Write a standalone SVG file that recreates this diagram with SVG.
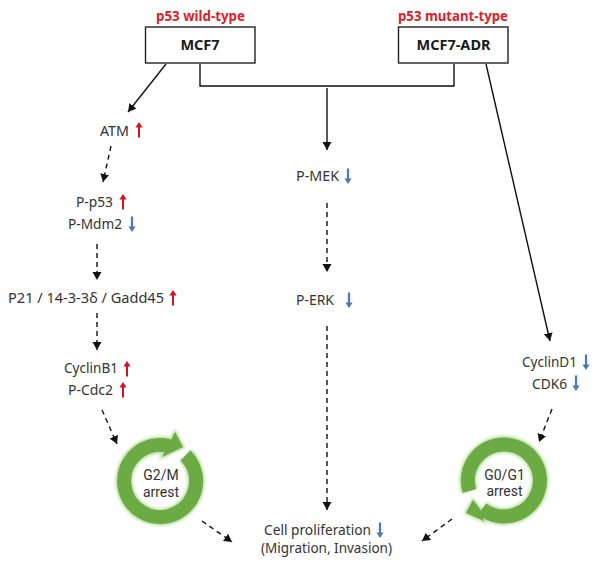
<svg xmlns="http://www.w3.org/2000/svg" width="600" height="567" viewBox="0 0 600 567">
  <style>
    .t { font-family: "Noto Sans", "Open Sans", sans-serif; font-size: 14px; fill: #333; text-anchor: middle; }
    .c { font-family: Roboto, "Liberation Sans", sans-serif; font-size: 14px; fill: #333; text-anchor: middle; }
    .tag { font-family: "Noto Sans", "Liberation Sans", sans-serif; font-size: 13.3px; font-weight: 700; fill: #e0202a; text-anchor: middle; }
    .name { font-family: "Noto Sans", "Liberation Sans", sans-serif; font-size: 14.5px; font-weight: 700; fill: #1a1a1a; text-anchor: middle; }
    .box { fill: #fff; stroke: #222; stroke-width: 1.4; }
    .solid { fill: none; stroke: #111; stroke-width: 1.4; }
    .dash { fill: none; stroke: #111; stroke-width: 1.4; stroke-dasharray: 5 4; }
    .ring { fill: none; stroke: #6cab44; stroke-width: 14; }
    .head { fill: #6cab44; }
    .glow { fill: none; stroke: #b5dc9c; stroke-width: 17; filter: url(#soft); }
    .headglow { fill: #b5dc9c; stroke: #b5dc9c; stroke-width: 3; filter: url(#soft); }
  </style>
  <defs>
    <marker id="tip" markerUnits="userSpaceOnUse" markerWidth="9" markerHeight="10" refX="8" refY="4.5" orient="auto">
      <path d="M0 0L8 4.5L0 9z" fill="#111"/>
    </marker>
    <filter id="soft" x="-20%" y="-20%" width="140%" height="140%"><feGaussianBlur stdDeviation="1.5"/></filter>
    <g id="up"><path d="M0 -8L3.6 -2.5L1 -2.5L1 7.5L-1 7.5L-1 -2.5L-3.6 -2.5z" fill="#d8121c"/></g>
    <g id="down"><path d="M0 8L3.6 2.5L1.1 2.5L1.1 -7.5L-1.1 -7.5L-1.1 2.5L-3.6 2.5z" fill="#4a78b8"/></g>
  </defs>
  <rect width="600" height="567" fill="#fff"/>

  <g id="connectors">
    <path class="solid" d="M166 64L128 112" marker-end="url(#tip)"/>
    <path class="solid" d="M200 64V86H454V64"/>
    <path class="solid" d="M327 88V150" marker-end="url(#tip)"/>
    <path class="solid" d="M486 64L550 341" marker-end="url(#tip)"/>
    <path class="dash" d="M111 146L103 182" marker-end="url(#tip)"/>
    <path class="dash" d="M97 244V280" marker-end="url(#tip)"/>
    <path class="dash" d="M97 313V350" marker-end="url(#tip)"/>
    <path class="dash" d="M102 410L117 444" marker-end="url(#tip)"/>
    <path class="dash" d="M327 203V272" marker-end="url(#tip)"/>
    <path class="dash" d="M327 326V510" marker-end="url(#tip)"/>
    <path class="dash" d="M552 409L539 442" marker-end="url(#tip)"/>
    <path class="dash" d="M202 521L232 542" marker-end="url(#tip)"/>
    <path class="dash" d="M452 519L422 541" marker-end="url(#tip)"/>
  </g>

  <g id="mcf7">
    <text class="tag" x="200.500" y="21" textLength="89" lengthAdjust="spacingAndGlyphs">p53 wild-type</text>
    <rect class="box" x="145.500" y="27" width="109.500" height="36"/>
    <text class="name" x="200" y="50">MCF7</text>
  </g>
  <g id="mcf7-adr">
    <text class="tag" x="453" y="21" textLength="110" lengthAdjust="spacingAndGlyphs">p53 mutant-type</text>
    <rect class="box" x="398.500" y="27" width="109.500" height="36"/>
    <text class="name" x="453.500" y="50" textLength="74" lengthAdjust="spacingAndGlyphs">MCF7-ADR</text>
  </g>

  <g id="atm">
    <text class="t" x="114.500" y="136" textLength="29" lengthAdjust="spacingAndGlyphs">ATM</text>
    <use href="#up" x="139" y="130"/>
  </g>
  <g id="p-p53-mdm2">
    <text class="t" x="94.500" y="207" textLength="37" lengthAdjust="spacingAndGlyphs">P-p53</text>
    <use href="#up" x="123" y="202"/>
    <text class="t" x="95" y="229" textLength="54" lengthAdjust="spacingAndGlyphs">P-Mdm2</text>
    <use href="#down" x="132" y="224"/>
  </g>
  <g id="p21">
    <text class="t" x="86" y="303" textLength="156" lengthAdjust="spacingAndGlyphs">P21 / 14-3-3δ / Gadd45</text>
    <use href="#up" x="173" y="298"/>
  </g>
  <g id="cyclinb1-cdc2">
    <text class="t" x="91" y="373" textLength="54" lengthAdjust="spacingAndGlyphs">CyclinB1</text>
    <use href="#up" x="127" y="369"/>
    <text class="t" x="90.500" y="395" textLength="45" lengthAdjust="spacingAndGlyphs">P-Cdc2</text>
    <use href="#up" x="123" y="390"/>
  </g>
  <g id="g2m">
    <path class="glow" d="M185.500 455.500A36 36 0 1 1 169.300 446.200"/>
    <path class="headglow" d="M175 432L183 447L162 457L168 446z"/>
    <path class="ring" d="M185.500 455.500A36 36 0 1 1 169.300 446.200"/>
    <path class="head" d="M175 432L183 447L162 457L168 446z"/>
    <text class="c" x="161" y="480">G2/M</text>
    <text class="c" x="161" y="497">arrest</text>
  </g>
  <g id="p-mek">
    <text class="t" x="317.500" y="181" textLength="43" lengthAdjust="spacingAndGlyphs">P-MEK</text>
    <use href="#down" x="348" y="176"/>
  </g>
  <g id="p-erk">
    <text class="t" x="315" y="305" textLength="38" lengthAdjust="spacingAndGlyphs">P-ERK</text>
    <use href="#down" x="349" y="300"/>
  </g>
  <g id="proliferation">
    <text class="t" x="317.500" y="535" textLength="107" lengthAdjust="spacingAndGlyphs">Cell proliferation</text>
    <use href="#down" x="380" y="530"/>
    <text class="t" x="326.500" y="553" textLength="131" lengthAdjust="spacingAndGlyphs">(Migration, Invasion)</text>
  </g>
  <g id="cyclind1-cdk6">
    <text class="t" x="549.500" y="367" textLength="55" lengthAdjust="spacingAndGlyphs">CyclinD1</text>
    <use href="#down" x="586" y="362"/>
    <text class="t" x="549.500" y="389" textLength="35" lengthAdjust="spacingAndGlyphs">CDK6</text>
    <use href="#down" x="576" y="383"/>
  </g>
  <g id="g0g1">
    <path class="glow" d="M469.500 491A36 36 0 1 1 482 509"/>
    <path class="headglow" d="M473 500L466 513L484 521L480 509z"/>
    <path class="ring" d="M469.500 491A36 36 0 1 1 482 509"/>
    <path class="head" d="M473 500L466 513L484 521L480 509z"/>
    <text class="c" x="504.500" y="480">G0/G1</text>
    <text class="c" x="504.500" y="496">arrest</text>
  </g>
</svg>
